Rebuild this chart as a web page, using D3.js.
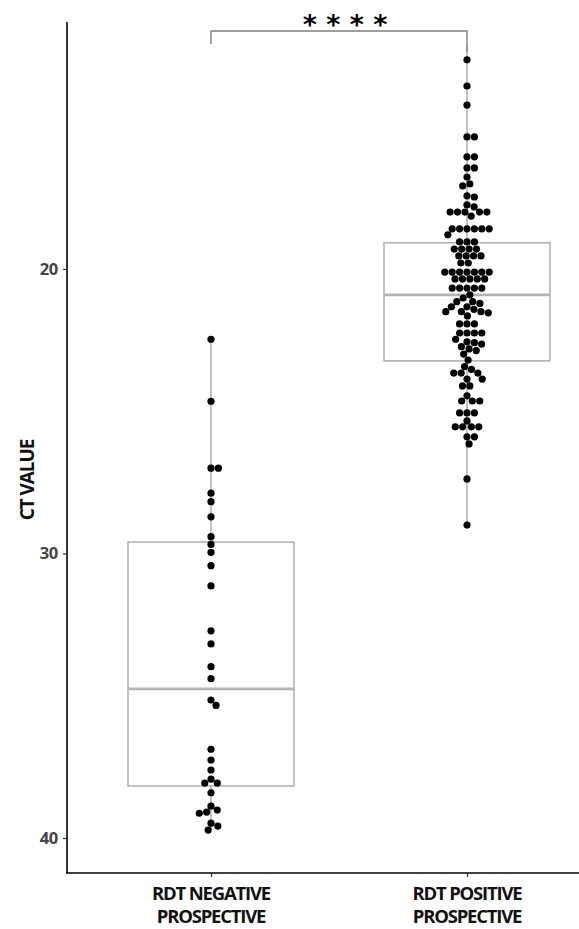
<!DOCTYPE html>
<html>
<head>
<meta charset="utf-8">
<script src="https://cdn.jsdelivr.net/npm/d3@7"></script>
<style>
  body { margin: 0; background: #fff; }
  svg { display: block; font-family: "Open Sans", sans-serif; }
</style>
</head>
<body>
<svg id="chart" width="579" height="929"></svg>
<script>
// Data
const groups = ["RDT NEGATIVE|PROSPECTIVE", "RDT POSITIVE|PROSPECTIVE"];

const negativeCt = [
  22.47, 24.65, 27.0, 27.0, 27.88, 28.18, 28.71, 29.41, 29.68, 29.96,
  30.43, 31.14, 32.72, 33.18, 33.98, 34.40, 35.15, 35.34, 36.88, 37.26,
  37.61, 37.93, 38.07, 38.07, 38.41, 38.88, 39.02, 39.09, 39.13, 39.48,
  39.58, 39.72
];

const positiveCt = [
  12.65, 13.57, 14.24, 15.36, 15.36, 16.06, 16.06, 16.45, 16.45, 16.77,
  17.01, 17.08, 17.43, 17.47, 17.75, 17.82, 18.0, 18.0, 18.0, 18.0, 18.0, 18.14,
  18.59, 18.59, 18.59, 18.59, 18.59, 18.59, 18.80,
  19.05, 19.05, 19.05, 19.30, 19.30, 19.30, 19.30, 19.54, 19.54, 19.54, 19.54,
  19.79, 19.79,
  20.11, 20.11, 20.11, 20.11, 20.11, 20.11, 20.11, 20.35, 20.35, 20.35, 20.35, 20.35,
  20.67, 20.67, 20.67, 20.67, 20.67,
  20.91, 21.02, 21.15, 21.15, 21.21, 21.33, 21.33, 21.42, 21.50, 21.50, 21.50, 21.54, 21.65,
  21.93, 21.93, 21.93, 22.25, 22.25, 22.25, 22.25,
  22.47, 22.56, 22.59, 22.64, 22.73, 22.81, 22.87, 22.99,
  23.20, 23.43, 23.53, 23.66, 23.66, 23.66, 23.87, 23.87, 24.11, 24.11,
  24.46, 24.64, 24.64, 24.64, 25.06, 25.06, 25.06, 25.34,
  25.55, 25.55, 25.55, 25.55, 25.9, 25.9, 26.15, 27.38, 29.0
];

// box stats: [whisker low, q1, median, q3, whisker high]
const boxStats = [
  [22.47, 29.6, 34.76, 38.17, 39.72],
  [12.13, 19.08, 20.91, 23.23, 29.0]
];

const yTicks = [20, 30, 40];
const signifLabel = "* * * *";

const svg = d3.select("#chart");

const y = d3.scaleLinear().domain([11.32, 41.23]).range([22, 873]);
const x = d3.scalePoint().domain(groups).range([211, 467]);

const boxWidth = 166;
const grey = "#b3b3b3";

// axes
const yAxis = svg.append("g")
  .attr("transform", "translate(67,0)")
  .call(d3.axisLeft(y).tickValues(yTicks).tickSize(4).tickPadding(5));
yAxis.select(".domain").attr("stroke", "#000").attr("stroke-width", 1.6).attr("d", "M0,22V873");
yAxis.selectAll(".tick line").attr("stroke", "#333").attr("stroke-width", 1.2);
yAxis.selectAll(".tick text")
  .attr("fill", "#444")
  .attr("font-size", 16.5)
  .attr("font-weight", 700)
  .attr("letter-spacing", -0.3)
  .attr("font-family", "Open Sans, sans-serif");

const xAxis = svg.append("g")
  .attr("transform", "translate(0,873)")
  .call(d3.axisBottom(x).tickSize(4).tickFormat(""));
xAxis.select(".domain").attr("stroke", "#000").attr("stroke-width", 1.6).attr("d", "M66,0H579");
xAxis.selectAll(".tick line").attr("stroke", "#333").attr("stroke-width", 1.2);

// x labels, two lines each
groups.forEach(g => {
  g.split("|").forEach((line, i) => {
    svg.append("text")
      .attr("x", x(g))
      .attr("y", 900 + i * 23)
      .attr("text-anchor", "middle")
      .attr("font-size", 18.5)
      .attr("font-weight", 700)
      .attr("letter-spacing", -1.2)
      .attr("fill", "#111")
      .text(line);
  });
});

// y title
svg.append("text")
  .attr("transform", "translate(34,480) rotate(-90)")
  .attr("text-anchor", "middle")
  .attr("font-size", 19)
  .attr("font-weight", 700)
  .attr("letter-spacing", -1.1)
  .attr("fill", "#111")
  .text("CT VALUE");

// boxplots
boxStats.forEach((s, i) => {
  const cx = x(groups[i]);
  const b = svg.append("g").attr("stroke", grey).attr("fill", "none");
  b.append("line").attr("x1", cx).attr("x2", cx).attr("y1", y(s[0])).attr("y2", y(s[1])).attr("stroke-width", 1.6);
  b.append("line").attr("x1", cx).attr("x2", cx).attr("y1", y(s[3])).attr("y2", y(s[4])).attr("stroke-width", 1.6);
  b.append("rect")
    .attr("x", cx - boxWidth / 2).attr("width", boxWidth)
    .attr("y", y(s[1])).attr("height", y(s[3]) - y(s[1]))
    .attr("fill", "#fff")
    .attr("stroke-width", 1.6);
  b.append("line")
    .attr("x1", cx - boxWidth / 2).attr("x2", cx + boxWidth / 2)
    .attr("y1", y(s[2])).attr("y2", y(s[2]))
    .attr("stroke-width", 2.6);
});

// simple beeswarm: place each dot at smallest |offset| that doesn't overlap
function swarm(values, d) {
  const placed = [];
  const sorted = values.slice().sort((a, b) => a - b);
  sorted.forEach(v => {
    const py = y(v);
    const near = placed.filter(p => Math.abs(p.y - py) < d);
    const cands = [0];
    near.forEach(p => {
      const dx = Math.sqrt(d * d - (p.y - py) ** 2);
      cands.push(p.x + dx, p.x - dx);
    });
    cands.sort((a, b) => Math.abs(a) - Math.abs(b) || b - a);
    let cx = 0;
    for (const c of cands) {
      if (near.every(p => (p.x - c) ** 2 + (p.y - py) ** 2 >= d * d - 0.01)) { cx = c; break; }
    }
    placed.push({ x: cx, y: py });
  });
  return placed;
}

[negativeCt, positiveCt].forEach((vals, i) => {
  const cx = x(groups[i]);
  svg.append("g")
    .selectAll("circle")
    .data(swarm(vals, 7.4))
    .join("circle")
    .attr("cx", d => cx + d.x)
    .attr("cy", d => d.y)
    .attr("r", 3.6)
    .attr("fill", "#000");
});

// significance bracket
const bracketY = 31;
svg.append("path")
  .attr("d", `M${x(groups[0])},${bracketY + 13}V${bracketY}H${x(groups[1])}V${bracketY + 21}`)
  .attr("fill", "none")
  .attr("stroke", "#808080")
  .attr("stroke-width", 1.4);
svg.append("text")
  .attr("x", (x(groups[0]) + x(groups[1])) / 2 + 6)
  .attr("y", 34)
  .attr("text-anchor", "middle")
  .attr("font-size", 27)
  .attr("font-weight", 700)
  .attr("font-family", "DejaVu Sans, sans-serif")
  .attr("fill", "#000")
  .text(signifLabel);
</script>
</body>
</html>
